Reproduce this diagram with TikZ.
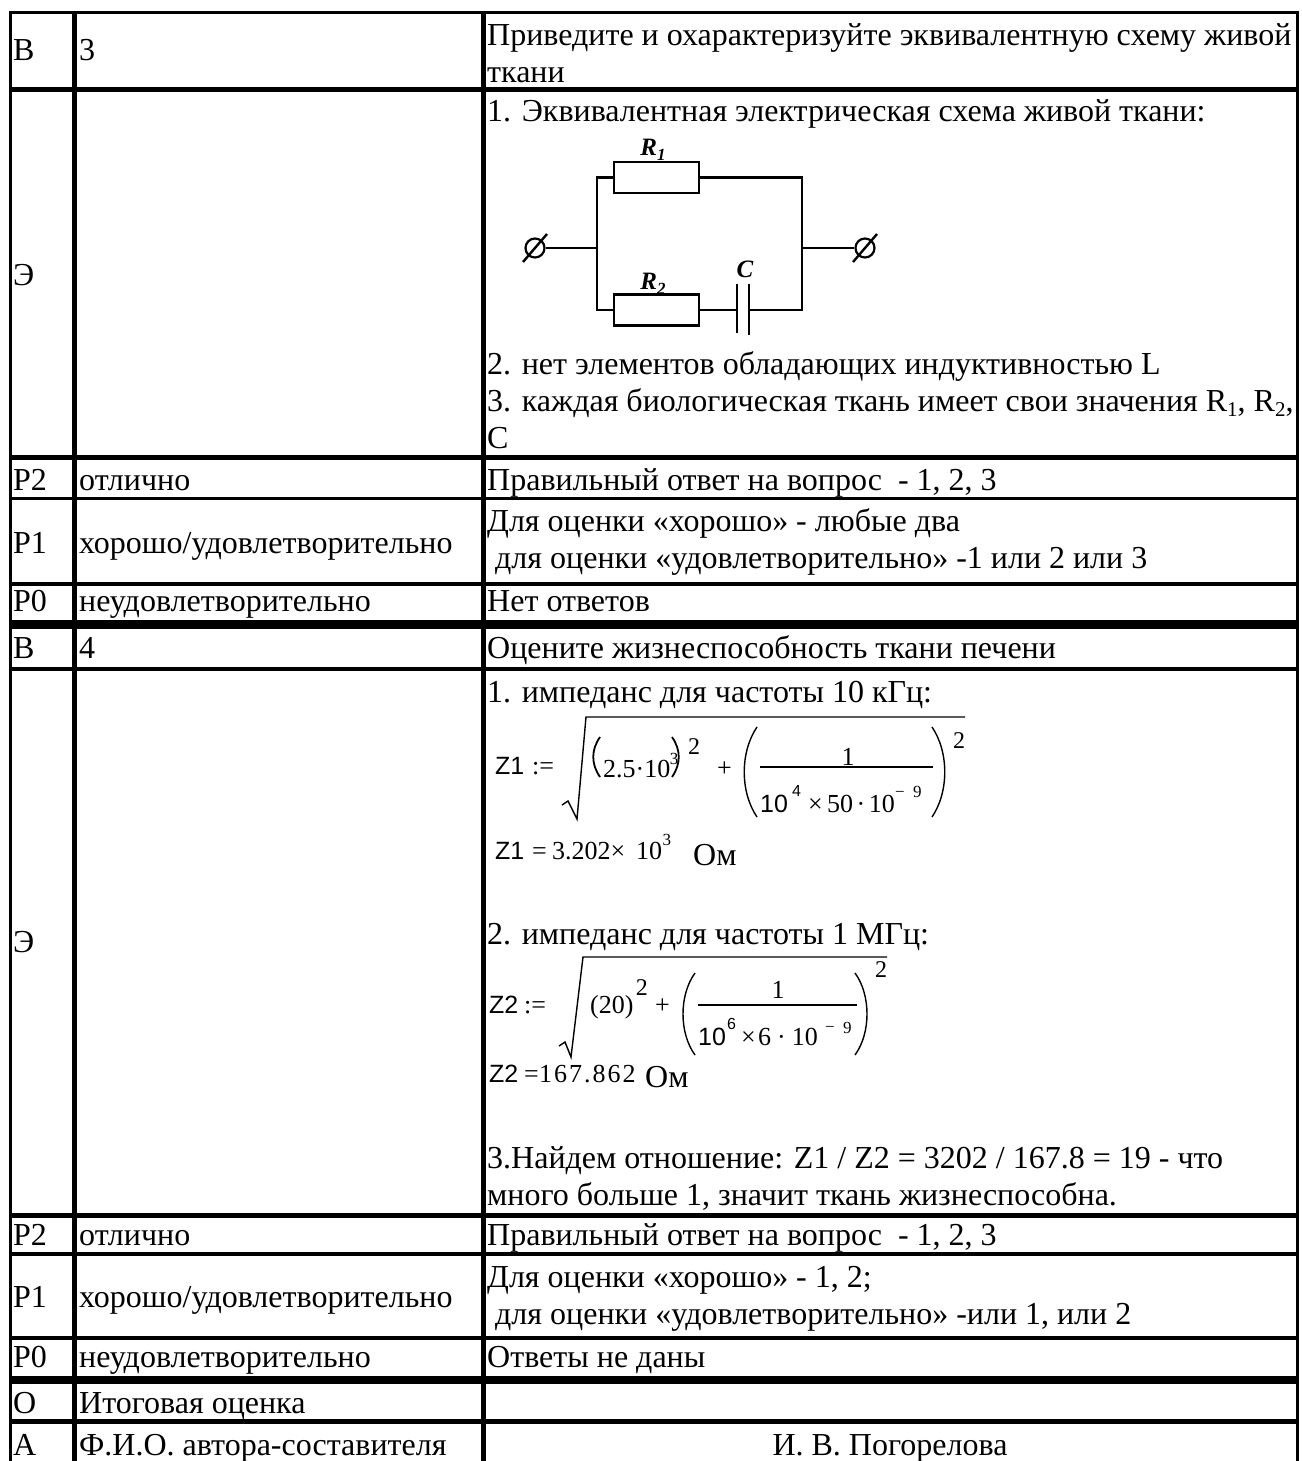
\documentclass[tikz,border=0pt]{standalone}
\usepackage{fontspec}
\setmainfont{Liberation Serif}
\newfontfamily\arialf{Liberation Sans}
\begin{document}
\begin{tikzpicture}[x=1pt,y=-1pt,
  tl/.style={anchor=base west, inner sep=0pt, font=\fontsize{32}{37}\selectfont},
  fs/.style={anchor=base west, inner sep=0pt, font=\fontsize{26}{30}\selectfont},
  fss/.style={anchor=base west, inner sep=0pt, font=\fontsize{17}{19}\selectfont},
  fex/.style={anchor=base west, inner sep=0pt, font=\fontsize{24}{26}\selectfont},
  fa/.style={anchor=base west, inner sep=0pt, font=\arialf\fontsize{25}{28}\selectfont},
  fas/.style={anchor=base west, inner sep=0pt, font=\arialf\fontsize{16}{18}\selectfont},
  lab/.style={anchor=base, inner sep=0pt, font=\bfseries\itshape\fontsize{25}{27}\selectfont},
  wire/.style={line width=2.4pt},
  res/.style={draw, line width=2.4pt, rectangle, minimum width=85pt, minimum height=31pt, inner sep=0pt},
  term/.style={draw, line width=2.2pt, circle, minimum size=19pt, inner sep=0pt},
  fl/.style={line width=1.4pt},
  pl/.style={line width=1.8pt},
  grid/.style={fill=black}
]
\useasboundingbox (0,0) rectangle (1301,1461);
\fill[white] (0,0) rectangle (1301,1461);
% ---- table rules ----
\fill[grid] (9,11) rectangle (12,1461);
\fill[grid] (1296,11) rectangle (1299,1461);
\fill[grid] (72,11) rectangle (77,1461);
\fill[grid] (481,11) rectangle (486,1461);
\fill[grid] (9,11) rectangle (1299,14);
\fill[grid] (9,87) rectangle (1299,92);
\fill[grid] (9,455) rectangle (1299,460);
\fill[grid] (9,497) rectangle (1299,500);
\fill[grid] (9,582) rectangle (1299,586);
\fill[grid] (9,620) rectangle (1299,629);
\fill[grid] (9,667) rectangle (1299,671);
\fill[grid] (9,1213) rectangle (1299,1218);
\fill[grid] (9,1252) rectangle (1299,1256);
\fill[grid] (9,1336) rectangle (1299,1340);
\fill[grid] (9,1376) rectangle (1299,1384);
\fill[grid] (9,1419) rectangle (1299,1424);
% ---- row B3 ----
\node[tl] (a1) at (13,61) {В};
\node[tl] (b1) at (79,61) {3};
\node[tl] (c1a) at (487,46) {Приведите и охарактеризуйте эквивалентную схему живой};
\node[tl] (c1b) at (487,83) {ткани};
% ---- row E1 ----
\node[tl] (a2) at (13,285) {Э};
\node[tl] (c2a) at (487,122) {1. Эквивалентная электрическая схема живой ткани:};
\node[tl] (c2b) at (487,374) {2. нет элементов обладающих индуктивностью L};
\node[tl] (c2c) at (487,411) {3. каждая биологическая ткань имеет свои значения R\raisebox{-0.18em}{\fontsize{21}{21}\selectfont 1}, R\raisebox{-0.18em}{\fontsize{21}{21}\selectfont 2},};
\node[tl] (c2d) at (487,448) {С};
% circuit
\node[res] (R1) at (656.5,177.5) {};
\node[res] (R2) at (656.5,310) {};
\node[term] (T1) at (535,248) {};
\node[term] (T2) at (865,248) {};
\coordinate (LM) at (597,248);
\coordinate (LB) at (597,310);
\coordinate (RM) at (802,248);
\coordinate (RB) at (802,310);
\coordinate (C1t) at (737,284);
\coordinate (C1b) at (737,333);
\coordinate (C2t) at (749,284);
\coordinate (C2b) at (749,335);
\coordinate (C1m) at (737,310);
\coordinate (C2m) at (749,310);
\draw[wire] (R1.west) -| (LB) -- (R2.west);
\draw[wire] (R1.east) -| (RB) -- (C2m);
\draw[wire] (R2.east) -- (C1m);
\draw[wire] (C1t) -- (C1b);
\draw[wire] (C2t) -- (C2b);
\draw[wire] (T1) -- (LM);
\draw[wire] (RM) -- (T2);
\draw[wire] ([shift={(-12,14)}]T1.center) -- ([shift={(12,-14)}]T1.center);
\draw[wire] ([shift={(-12,14)}]T2.center) -- ([shift={(12,-14)}]T2.center);
\node[lab] (lR1) at (653,155) {R\raisebox{-0.22em}{\fontsize{17}{17}\selectfont 1}};
\node[lab] (lR2) at (653,289) {R\raisebox{-0.22em}{\fontsize{17}{17}\selectfont 2}};
\node[lab] (lC) at (745,277) {C};
% ---- row P2 ----
\node[tl] (a3) at (13,490) {Р2};
\node[tl] (b3) at (79,490) {отлично};
\node[tl] (c3) at (487,490) {Правильный ответ на вопрос\ \ - 1, 2, 3};
% ---- row P1 ----
\node[tl] (a4) at (13,553) {Р1};
\node[tl] (b4) at (79,553) {хорошо/удовлетворительно};
\node[tl] (c4a) at (487,531) {Для оценки «хорошо» - любые два};
\node[tl] (c4b) at (487,568) {\ для оценки «удовлетворительно» -1 или 2 или 3};
% ---- row P0 ----
\node[tl] (a5) at (13,611) {Р0};
\node[tl] (b5) at (79,611) {неудовлетворительно};
\node[tl] (c5) at (487,611) {Нет ответов};
% ---- row B4 ----
\node[tl] (a6) at (13,658) {В};
\node[tl] (b6) at (79,658) {4};
\node[tl] (c6) at (487,658) {Оцените жизнеспособность ткани печени};
% ---- row E2 ----
\node[tl] (a7) at (13,952) {Э};
\node[tl] (c7a) at (487,702) {1. импеданс для частоты 10 кГц:};
% Z1 formula
\node[fa] (z1) at (495,774) {Z1};
\node[fs] (z1d) at (532,774) {:=};
\draw[fl] (562,805) -- (568,801) -- (577,819) -- (586,717) -- (965,717);
\draw[pl] (600,737) .. controls (591,750) and (591,764) .. (600,777);
\node[fs] (z1p) at (603,777) {2.5·10};
\node[fss, anchor=base west] (z1e) at ([shift={(-1,-13)}]z1p.base east) {3};
\draw[pl] (672,737) .. controls (681,750) and (681,764) .. (672,777);
\node[fex] (z1s) at (688,754) {2};
\node[fs] (z1plus) at (717,776) {+};
\draw[fl] (757,727) .. controls (740,752) and (740,792) .. (757,817);
\node[fs, anchor=base] (z1n) at (848,765) {1};
\draw[line width=1.3pt] (760,767) -- (933,767);
\node[fa] (z1da) at (760,812) {10};
\node[fas] (z1db) at (792,796) {4};
\node[fs] (z1dc) at (808,812) {×};
\node[fs] (z1dd) at (827,812) {50\hspace{3.5pt}·\hspace{3.5pt}10};
\node[fss] (z1dm) at (895,797) {−};
\node[fss] (z1dn) at (913,797) {9};
\draw[fl] (932,727) .. controls (949,752) and (949,792) .. (932,817);
\node[fex] (z1f) at (953,748) {2};
\node[fa] (z1r) at (495,859) {Z1};
\node[fs] (z1re) at (532,859) {=};
\node[fs] (z1rv) at (552,859) {3.202×};
\node[fs] (z1rw) at (636,859) {10};
\node[fss, anchor=base west] (z1rx) at ([shift={(0,-14)}]z1rw.base east) {3};
\node[tl] (z1ru) at (693,865) {Ом};
\node[tl] (c7b) at (487,944) {2. импеданс для частоты 1 МГц:};
% Z2 formula
\node[fa] (z2) at (489,1013) {Z2};
\node[fs] (z2d) at (524,1013) {:=};
\draw[fl] (559,1046) -- (565,1042) -- (571,1057) -- (583,957) -- (887,957);
\node[fs] (z2p) at (590,1013) {(20)};
\node[fex, anchor=base west] (z2e) at ([shift={(2,-18)}]z2p.base east) {2};
\node[fs] (z2plus) at (655,1013) {+};
\draw[fl] (695,973) .. controls (679,995) and (679,1033) .. (695,1055);
\node[fs, anchor=base] (z2n) at (778,998) {1};
\draw[line width=1.3pt] (698,1005) -- (857,1005);
\node[fa] (z2da) at (698,1045) {10};
\node[fas] (z2db) at (727,1029) {6};
\node[fs] (z2dc) at (741,1045) {×};
\node[fs] (z2dd) at (758,1045) {6\hspace{6pt}·\hspace{6pt}10};
\node[fss] (z2dm) at (825,1032) {−};
\node[fss] (z2dn) at (843,1033) {9};
\draw[fl] (855,973) .. controls (871,995) and (871,1033) .. (855,1055);
\node[fex] (z2f) at (875,977) {2};
\node[fa] (z2r) at (489,1082) {Z2};
\node[fs] (z2re) at (524,1082) {=};
\node[fs] (z2rv) at (539,1082) {1\kern2pt 6\kern2pt 7\kern2pt .\kern2pt 8\kern2pt 6\kern2pt 2};
\node[tl] (z2ru) at (645,1087) {Ом};
\node[tl] (c7c) at (487,1168) {3.Найдем отношение: Z1 / Z2 = 3202 / 167.8 = 19 - что};
\node[tl] (c7d) at (487,1205) {много больше 1, значит ткань жизнеспособна.};
% ---- row P2 (2) ----
\node[tl] (a8) at (13,1245) {Р2};
\node[tl] (b8) at (79,1245) {отлично};
\node[tl] (c8) at (487,1245) {Правильный ответ на вопрос\ \ - 1, 2, 3};
% ---- row P1 (2) ----
\node[tl] (a9) at (13,1307) {Р1};
\node[tl] (b9) at (79,1307) {хорошо/удовлетворительно};
\node[tl] (c9a) at (487,1287) {Для оценки «хорошо» - 1, 2;};
\node[tl] (c9b) at (487,1324) {\ для оценки «удовлетворительно» -или 1, или 2};
% ---- row P0 (2) ----
\node[tl] (a10) at (13,1367) {Р0};
\node[tl] (b10) at (79,1367) {неудовлетворительно};
\node[tl] (c10) at (487,1367) {Ответы не даны};
% ---- row O ----
\node[tl] (a11) at (13,1413) {О};
\node[tl] (b11) at (79,1413) {Итоговая оценка};
% ---- row A ----
\node[tl] (a12) at (13,1455) {А};
\node[tl] (b12) at (79,1455) {Ф.И.О. автора-составителя};
\node[tl, anchor=base] (c12) at (890,1455) {И. В. Погорелова};
\end{tikzpicture}
\end{document}
